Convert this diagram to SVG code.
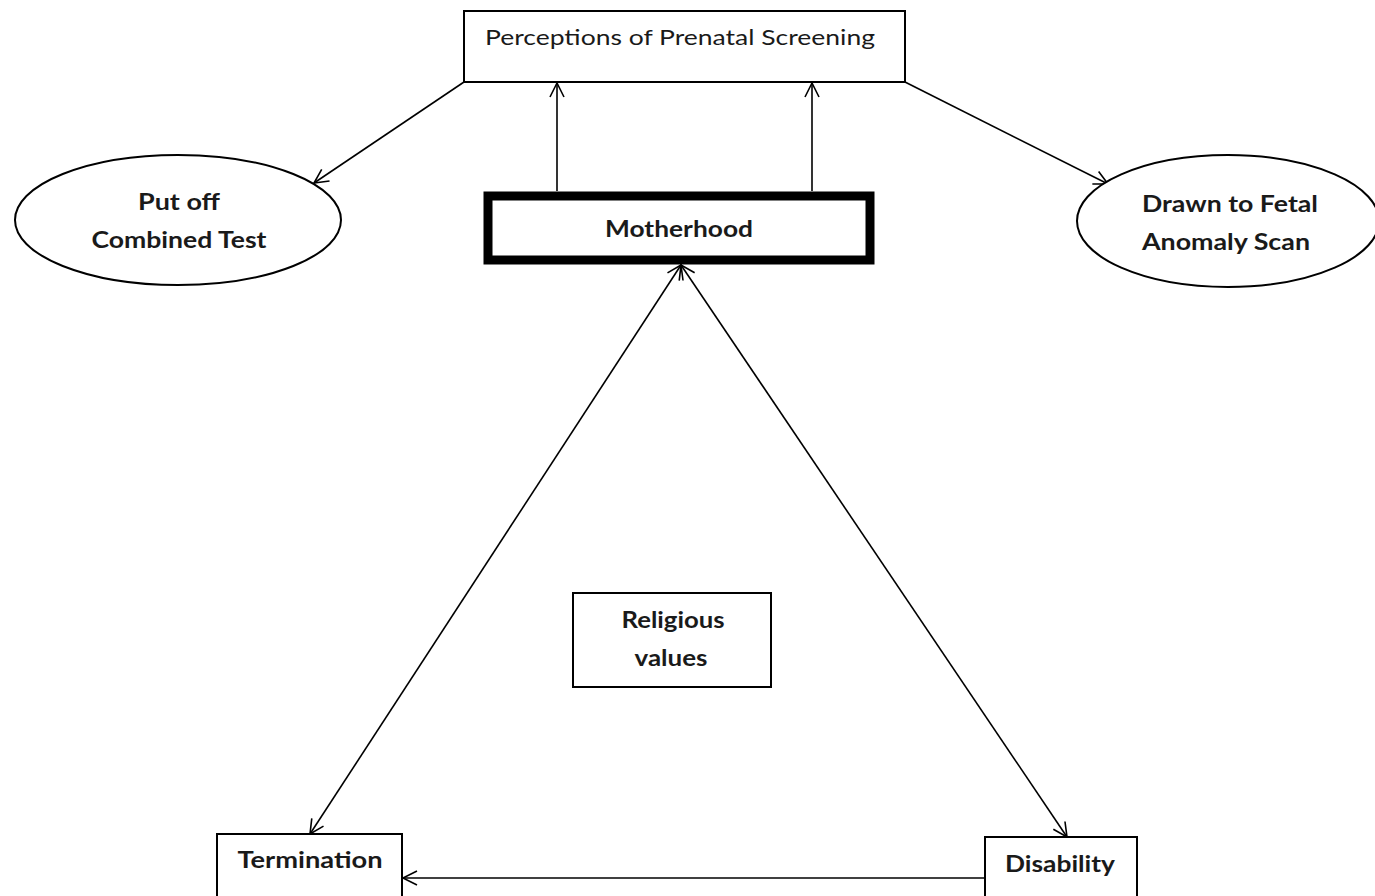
<svg xmlns="http://www.w3.org/2000/svg" width="1375" height="896" viewBox="0 0 1375 896">
<style>
.box{fill:#fff;stroke:#000;stroke-width:2}
.thick{fill:#fff;stroke:#000;stroke-width:9}
.ell{fill:#fff;stroke:#000;stroke-width:2}
.t{font-family:Lato,"Open Sans",sans-serif;fill:#1a1a1a;text-anchor:middle}
.b{font-weight:bold}
.c{fill:none;stroke:#000;stroke-width:1.6}
</style>
<defs>
<marker id="ah" viewBox="0 0 20 20" refX="18" refY="10" markerWidth="20" markerHeight="20" markerUnits="userSpaceOnUse" orient="auto-start-reverse">
<path d="M4,3 L18,10 L4,17" fill="none" stroke="#000" stroke-width="1.6"/>
</marker>
</defs>
<rect width="1375" height="896" fill="#fff"/>
<g id="connectors">
<line class="c" x1="464" y1="82" x2="314" y2="183" marker-end="url(#ah)"/>
<line class="c" x1="905" y1="82" x2="1108" y2="184" marker-end="url(#ah)"/>
<line class="c" x1="557" y1="191" x2="557" y2="83" marker-end="url(#ah)"/>
<line class="c" x1="812" y1="191" x2="812" y2="83" marker-end="url(#ah)"/>
<line class="c" x1="681" y1="265" x2="310" y2="834" marker-start="url(#ah)" marker-end="url(#ah)"/>
<line class="c" x1="681" y1="265" x2="1067" y2="837" marker-start="url(#ah)" marker-end="url(#ah)"/>
<line class="c" x1="985" y1="878" x2="403" y2="878" marker-end="url(#ah)"/>
</g>
<g id="perceptions">
<rect class="box" x="464" y="11" width="441" height="71"/>
<text class="t" x="680" y="45" font-size="21" textLength="390" lengthAdjust="spacingAndGlyphs">Perceptions of Prenatal Screening</text>
</g>
<g id="motherhood">
<rect class="thick" x="488" y="196" width="382" height="64"/>
<text class="t b" x="679" y="237" font-size="22" textLength="148" lengthAdjust="spacingAndGlyphs">Motherhood</text>
</g>
<g id="putoff">
<ellipse class="ell" cx="178" cy="220" rx="163" ry="65"/>
<text class="t b" x="179" y="210" font-size="22" textLength="82" lengthAdjust="spacingAndGlyphs">Put off</text>
<text class="t b" x="179" y="248" font-size="22" textLength="175" lengthAdjust="spacingAndGlyphs">Combined Test</text>
</g>
<g id="drawn">
<ellipse class="ell" cx="1228" cy="221" rx="151" ry="66"/>
<text class="t b" x="1230" y="212" font-size="22" textLength="176" lengthAdjust="spacingAndGlyphs">Drawn to Fetal</text>
<text class="t b" x="1226" y="250" font-size="22" textLength="168" lengthAdjust="spacingAndGlyphs">Anomaly Scan</text>
</g>
<g id="religious">
<rect class="box" x="573" y="593" width="198" height="94"/>
<text class="t b" x="673" y="628" font-size="22" textLength="103" lengthAdjust="spacingAndGlyphs">Religious</text>
<text class="t b" x="671" y="666" font-size="22" textLength="73" lengthAdjust="spacingAndGlyphs">values</text>
</g>
<g id="termination">
<rect class="box" x="217" y="834" width="185" height="70"/>
<text class="t b" x="310" y="868" font-size="22" textLength="145" lengthAdjust="spacingAndGlyphs">Termination</text>
</g>
<g id="disability">
<rect class="box" x="985" y="837" width="152" height="70"/>
<text class="t b" x="1060" y="872" font-size="22" textLength="110" lengthAdjust="spacingAndGlyphs">Disability</text>
</g>
</svg>
